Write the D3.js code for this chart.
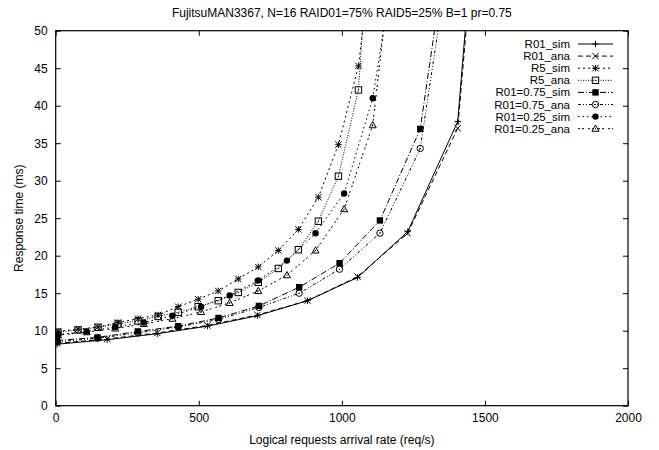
<!DOCTYPE html>
<html>
<head>
<meta charset="utf-8">
<script src="https://cdn.jsdelivr.net/npm/d3@7"></script>
<style>
  body { margin: 0; background: #fff; }
  svg text { font-family: "Liberation Sans", Arial, sans-serif; fill: #000; }
</style>
</head>
<body>
<div class="container"></div>
<script>
// data
const r01X = [5, 180, 355, 530, 705, 880, 1055, 1230, 1405, 1580]
const r01Sim = [8.2, 8.8, 9.6, 10.6, 12.0, 14.0, 17.1, 23.2, 37.9, 119]
const r01Ana = [8.3, 8.9, 9.7, 10.7, 12.1, 14.0, 17.2, 23.0, 37.0, 115]

const r5X = [8, 78, 148, 218, 288, 358, 428, 498, 568, 638, 708, 778, 848, 918, 988, 1058, 1128]
const r5Sim = [9.9, 10.2, 10.5, 11.1, 11.6, 12.1, 13.2, 14.2, 15.3, 16.9, 18.5, 20.7, 23.5, 27.8, 34.8, 45.3, 68]
const r5Ana = [9.8, 10.1, 10.45, 10.9, 11.3, 11.9, 12.45, 13.2, 14.0, 15.1, 16.45, 18.3, 20.8, 24.6, 30.6, 42.1, 81]

const r075X = [5, 146, 287, 428, 569, 710, 851, 992, 1133, 1274, 1415]
const r075Sim = [8.7, 9.1, 9.9, 10.6, 11.7, 13.3, 15.8, 19.0, 24.7, 36.9, 74]
const r075Ana = [8.5, 9.0, 9.7, 10.5, 11.5, 13.1, 15.0, 18.2, 23.0, 34.3, 70]

const r025X = [8, 108, 208, 308, 408, 508, 608, 708, 808, 908, 1008, 1108, 1208]
const r025Sim = [9.5, 9.9, 10.5, 11.1, 12.0, 13.2, 14.7, 16.7, 19.35, 23.0, 28.3, 41.0, 65]
const r025Ana = [9.4, 9.8, 10.3, 10.9, 11.6, 12.5, 13.7, 15.3, 17.4, 20.7, 26.2, 37.4, 71]

const seriesNames = ["R01_sim", "R01_ana", "R5_sim", "R5_ana",
  "R01=0.75_sim", "R01=0.75_ana", "R01=0.25_sim", "R01=0.25_ana"]

const xTicks = [0, 500, 1000, 1500, 2000]
const yTicks = [0, 5, 10, 15, 20, 25, 30, 35, 40, 45, 50]

const titleText = "FujitsuMAN3367, N=16 RAID01=75% RAID5=25% B=1 pr=0.75"
const xLabel = "Logical requests arrival rate (req/s)"
const yLabel = "Response time (ms)"

// gnuplot-ish line types / point types
const dashes = [null, "5,3", "2,3", "1,1.5", "6,2,1,2", "3,2,1,2,1,2", "1.5,3", "2,2,2,4"]
const points = ["plus", "cross", "star", "boxO", "boxF", "circO", "circF", "triO"]

const series = [
  { xs: r01X, ys: r01Sim }, { xs: r01X, ys: r01Ana },
  { xs: r5X, ys: r5Sim }, { xs: r5X, ys: r5Ana },
  { xs: r075X, ys: r075Sim }, { xs: r075X, ys: r075Ana },
  { xs: r025X, ys: r025Sim }, { xs: r025X, ys: r025Ana }
].map((s, i) => ({
  name: seriesNames[i],
  dash: dashes[i],
  pt: points[i],
  values: s.xs.map((x, j) => ({ x: x, y: s.ys[j] }))
}))

const w = 659
const h = 450
const pLeft = 55.7, pRight = 628, pTop = 30.7, pBottom = 405.7
const fs = 12

const svg = d3.select('.container')
  .append('svg')
  .attr('width', w)
  .attr('height', h)

const xScale = d3.scaleLinear().domain([0, 2000]).range([pLeft, pRight])
const yScale = d3.scaleLinear().domain([0, 50]).range([pBottom, pTop])

svg.append('defs').append('clipPath')
  .attr('id', 'plotclip')
  .append('rect')
  .attr('x', pLeft).attr('y', pTop)
  .attr('width', pRight - pLeft).attr('height', pBottom - pTop)

// axes with inward ticks, mirrored
const tickLen = 5
const xAxis = d3.axisBottom(xScale).tickValues(xTicks).tickFormat(d3.format('d'))
  .tickSizeInner(-tickLen).tickSizeOuter(0).tickPadding(8)
const yAxis = d3.axisLeft(yScale).tickValues(yTicks).tickFormat(d3.format('d'))
  .tickSizeInner(-tickLen).tickSizeOuter(0).tickPadding(8)

svg.append('g')
  .attr('id', 'x-axis')
  .attr('transform', 'translate(0,' + pBottom + ')')
  .call(xAxis)
svg.append('g')
  .attr('id', 'y-axis')
  .attr('transform', 'translate(' + pLeft + ',0)')
  .call(yAxis)

svg.append('g')
  .attr('transform', 'translate(0,' + pTop + ')')
  .call(d3.axisTop(xScale).tickValues(xTicks).tickSizeInner(-tickLen).tickSizeOuter(0).tickFormat(''))
svg.append('g')
  .attr('transform', 'translate(' + pRight + ',0)')
  .call(d3.axisRight(yScale).tickValues(yTicks).tickSizeInner(-tickLen).tickSizeOuter(0).tickFormat(''))

svg.selectAll('.domain').remove()
svg.selectAll('.tick line').attr('stroke', '#000').attr('stroke-width', 1)
svg.selectAll('.tick text')
  .style('font-size', fs + 'px')
  .style('font-family', '"Liberation Sans", Arial, sans-serif')
  .attr('fill', '#000')

// border
svg.append('rect')
  .attr('x', pLeft).attr('y', pTop)
  .attr('width', pRight - pLeft).attr('height', pBottom - pTop)
  .attr('fill', 'none')
  .attr('stroke', '#000')
  .attr('stroke-width', 1.2)

// titles
svg.append('text')
  .attr('x', (pLeft + pRight) / 2)
  .attr('y', 17)
  .attr('text-anchor', 'middle')
  .style('font-size', fs + 'px')
  .text(titleText)

svg.append('text')
  .attr('x', (pLeft + pRight) / 2)
  .attr('y', 444)
  .attr('text-anchor', 'middle')
  .style('font-size', fs + 'px')
  .text(xLabel)

svg.append('text')
  .attr('transform', 'translate(23,' + (pTop + pBottom) / 2 + ') rotate(-90)')
  .attr('text-anchor', 'middle')
  .style('font-size', fs + 'px')
  .text(yLabel)

// point symbols
const ps = 3.2
const drawPoint = (g, type, cx, cy) => {
  const p = g.append('g').attr('transform', 'translate(' + cx + ',' + cy + ')')
  const stroke = el => el.attr('stroke', '#000').attr('stroke-width', 1).attr('fill', 'none')
  if (type === 'plus' || type === 'star') {
    stroke(p.append('path').attr('d', `M${-ps},0H${ps}M0,${-ps}V${ps}`))
  }
  if (type === 'cross' || type === 'star') {
    stroke(p.append('path').attr('d', `M${-ps},${-ps}L${ps},${ps}M${-ps},${ps}L${ps},${-ps}`))
  }
  if (type === 'boxO' || type === 'boxF') {
    const r = p.append('rect').attr('x', -ps).attr('y', -ps).attr('width', 2 * ps).attr('height', 2 * ps)
    if (type === 'boxF') r.attr('fill', '#000')
    else stroke(r)
  }
  if (type === 'circO' || type === 'circF') {
    const c = p.append('circle').attr('r', ps)
    if (type === 'circF') c.attr('fill', '#000')
    else stroke(c)
  }
  if (type === 'triO') {
    stroke(p.append('path').attr('d', `M0,${-ps * 1.15}L${ps * 1.1},${ps * 0.8}L${-ps * 1.1},${ps * 0.8}Z`))
  }
  if (type === 'boxO' || type === 'circO' || type === 'triO') {
    p.append('circle').attr('r', 0.6).attr('fill', '#000')
  }
}

const line = d3.line()
  .x(d => xScale(d.x))
  .y(d => yScale(d.y))

const plot = svg.append('g').attr('clip-path', 'url(#plotclip)')

series.forEach(s => {
  plot.append('path')
    .datum(s.values)
    .attr('d', line)
    .attr('fill', 'none')
    .attr('stroke', '#000')
    .attr('stroke-width', 1)
    .attr('stroke-dasharray', s.dash)

  s.values.filter(d => d.y <= 50).forEach(d => {
    drawPoint(plot, s.pt, xScale(d.x), yScale(d.y))
  })
})

// legend, top right
const legend = svg.append('g').attr('id', 'legend')
series.forEach((s, i) => {
  const ly = 44 + i * 12.1
  legend.append('text')
    .attr('x', 570)
    .attr('y', ly)
    .attr('dy', '0.35em')
    .attr('text-anchor', 'end')
    .style('font-size', '11.5px')
    .text(s.name)
  legend.append('line')
    .attr('x1', 578).attr('x2', 613)
    .attr('y1', ly).attr('y2', ly)
    .attr('stroke', '#000')
    .attr('stroke-width', 1)
    .attr('stroke-dasharray', s.dash)
  drawPoint(legend, s.pt, 595.5, ly)
})
</script>
</body>
</html>
